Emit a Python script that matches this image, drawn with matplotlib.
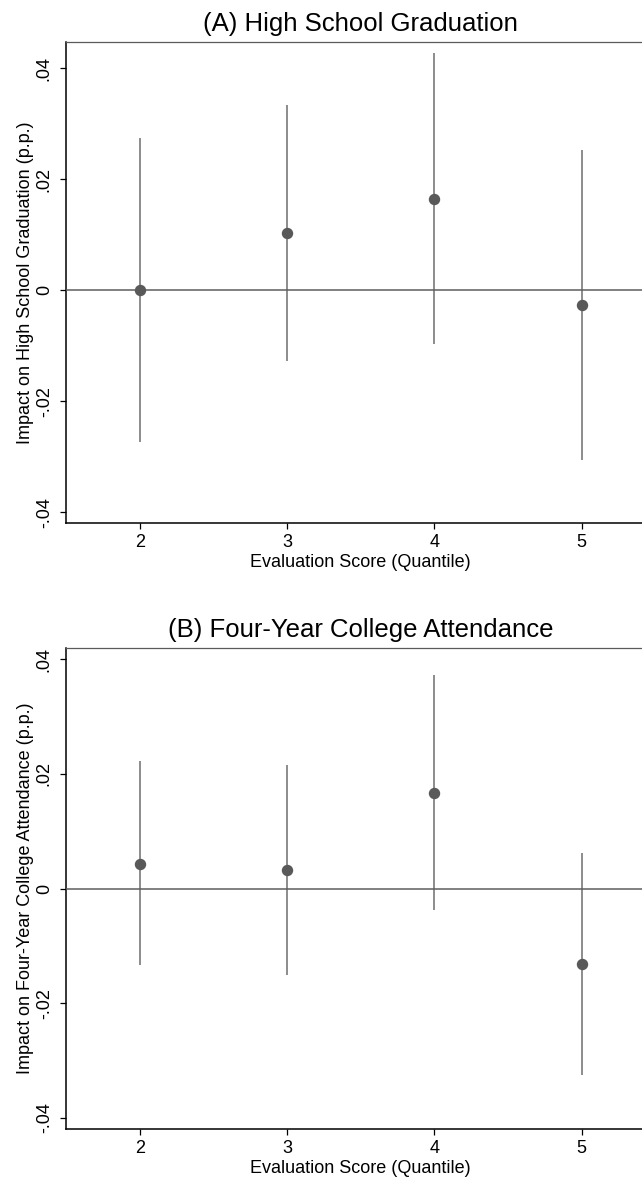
import matplotlib
matplotlib.use('Agg')
import matplotlib.pyplot as plt

plt.rcParams['font.family'] = ['Liberation Sans', 'DejaVu Sans']

# evaluation score quantiles
quantiles = [2, 3, 4, 5]
xtick_labels = ['2', '3', '4', '5']
ytick_vals = [-0.04, -0.02, 0, 0.02, 0.04]
ytick_labels = ['-.04', '-.02', '0', '.02', '.04']

# (A) high school graduation
hs_est = [0.0000, 0.0103, 0.0165, -0.0027]
hs_lo = [-0.0273, -0.0127, -0.0097, -0.0306]
hs_hi = [0.0274, 0.0333, 0.0427, 0.0252]

# (B) four-year college attendance
col_est = [0.0043, 0.0032, 0.0167, -0.0132]
col_lo = [-0.0134, -0.0150, -0.0038, -0.0326]
col_hi = [0.0222, 0.0215, 0.0372, 0.0062]

fig = plt.figure(figsize=(6.42, 11.8), dpi=100)

def panel(rect, est, lo, hi, title, ylabel, ylim):
	ax = fig.add_axes(rect)
	ax.vlines(quantiles, lo, hi, color='#6e6e6e', linewidth=1.1, zorder=2)
	ax.axhline(0, color='#5e5e5e', linewidth=1.1, zorder=3)
	ax.plot(quantiles, est, 'o', color='#595959', markersize=7.2, zorder=4)
	ax.set_xlim(1.5, 5.5)
	ax.set_ylim(*ylim)
	ax.set_xticks(quantiles)
	ax.set_xticklabels(xtick_labels)
	ax.set_yticks(ytick_vals)
	ax.set_yticklabels(ytick_labels, rotation=90, va='center')
	ax.tick_params(direction='out', length=4, width=0.9, labelsize=13)
	ax.tick_params(axis='x', pad=4)
	ax.tick_params(axis='y', pad=5.5)
	ax.spines['right'].set_visible(False)
	ax.spines['top'].set_color('#5a5a5a')
	ax.spines['top'].set_linewidth(0.9)
	for s in ['left', 'bottom']:
		ax.spines[s].set_color('black')
		ax.spines[s].set_linewidth(1.1)
	ax.set_title(title, fontsize=18.5, pad=8)
	ax.set_xlabel('Evaluation Score (Quantile)', fontsize=13, labelpad=2)
	ax.set_ylabel(ylabel, fontsize=13, labelpad=1.5)
	return ax

panel([0.1028, 0.5565, 0.9178, 0.4082], hs_est, hs_lo, hs_hi,
	'(A) High School Graduation', 'Impact on High School Graduation (p.p.)',
	(-0.042, 0.0448))
panel([0.1028, 0.0429, 0.9178, 0.4082], col_est, col_lo, col_hi,
	'(B) Four-Year College Attendance', 'Impact on Four-Year College Attendance (p.p.)',
	(-0.042, 0.042))

fig.savefig('out.png', dpi=100)
